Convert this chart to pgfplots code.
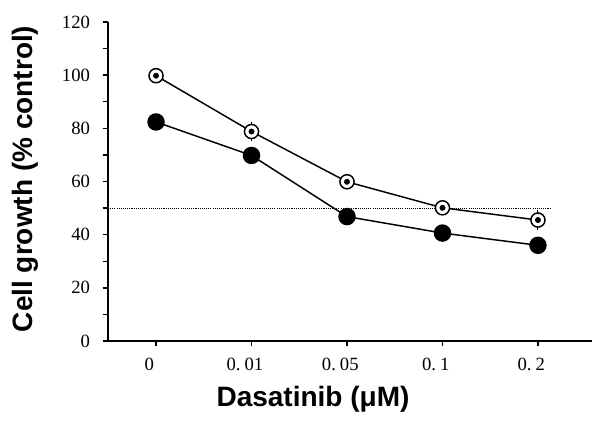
\documentclass[border=0pt]{standalone}
\usepackage{fontspec}
\setmainfont{Liberation Serif}
\newfontfamily\arialb{Liberation Sans}
\usepackage{pgfplots}
\pgfplotsset{compat=1.18}
\begin{document}
\begin{tikzpicture}[x=1pt,y=1pt]
\useasboundingbox (0,0) rectangle (450,321.75);
\begin{axis}[
  at={(81pt,66pt)}, anchor=south west,
  scale only axis, width=363pt, height=239.25pt,
  xmin=-0.503, xmax=4.566, ymin=0, ymax=120,
  axis lines=left,
  axis line style={-, line width=1.4pt},
  xtick={0,1,2,3,4},
  xticklabels={0, 0.\hspace{3pt}01, 0.\hspace{3pt}05, 0.\hspace{3pt}1, 0.\hspace{3pt}2},
  ytick={0,20,40,60,80,100,120},
  minor y tick num=1,
  tick align=outside,
  major tick length=4pt, minor tick length=4pt,
  tick style={black, line width=1.1pt},
  /pgf/number format/assume math mode=true,
  tick label style={font=\fontsize{14}{16}\selectfont},
  xticklabel style={yshift=-5.5pt, xshift=-5pt},
  yticklabel style={xshift=-6pt},
  xlabel={Dasatinib (μM)},
  ylabel={Cell growth (\% control)},
  label style={font=\arialb\bfseries\fontsize{21}{24}\selectfont},
  xlabel style={at={(axis description cs:0.4236,-0.2038)}, anchor=base},
  ylabel style={at={(axis description cs:-0.155,0.508)}, anchor=base},
  clip=false,
]
\addplot[black, line width=0.8pt, dash pattern=on 0.8pt off 0.8pt] coordinates {(-0.503,50) (4.136,50)};
\addplot[black, line width=1.1pt, mark=*, mark size=6pt, mark options={fill=black, solid}] coordinates {
(0,82.4) (1,69.8) (2,46.8) (3,40.6) (4,36.0)};
\addplot[black, line width=1.1pt, mark=*, mark size=5.3pt, mark options={fill=white, solid}] coordinates {
(0,99.8) (1,78.8) (2,59.9) (3,50.1) (4,45.5)};
\addplot[draw=black, only marks, mark=none, error bars/.cd, y dir=both, y explicit,
  error bar style={draw=black, solid, line width=0.7pt}, error mark=-, error mark options={draw=black, mark size=2.8pt, line width=0.7pt}]
  coordinates {
(0,99.8) +- (0,0.9)
(1,78.8) +- (0,2.2)
(2,59.9) +- (0,1.5)
(3,50.1) +- (0,1.0)
(4,45.5) +- (0,2.2)};
\end{axis}
\end{tikzpicture}
\end{document}
